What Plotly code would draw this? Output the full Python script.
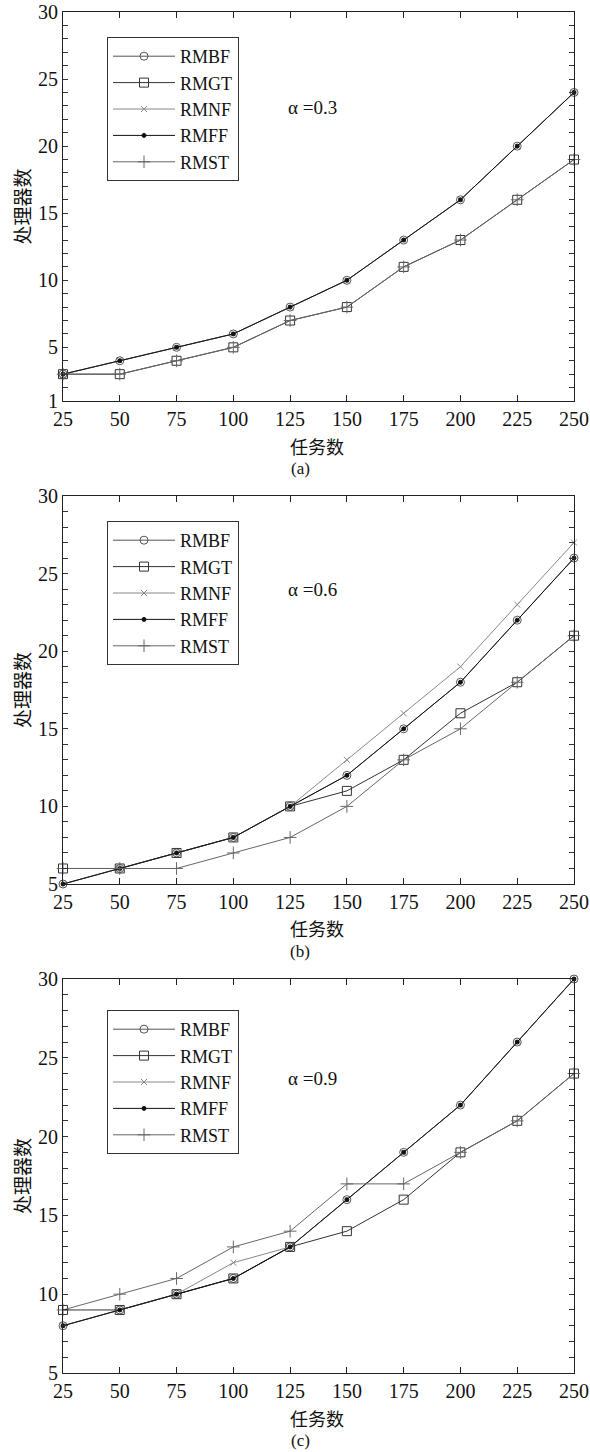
import plotly.graph_objects as go

tasks = [25, 50, 75, 100, 125, 150, 175, 200, 225, 250]
series_names = ["RMBF", "RMGT", "RMNF", "RMFF", "RMST"]

# panel (a) alpha = 0.3
a_RMBF = [3, 4, 5, 6, 8, 10, 13, 16, 20, 24]
a_RMGT = [3, 3, 4, 5, 7, 8, 11, 13, 16, 19]
a_RMNF = [3, 4, 5, 6, 8, 10, 13, 16, 20, 24]
a_RMFF = [3, 4, 5, 6, 8, 10, 13, 16, 20, 24]
a_RMST = [3, 3, 4, 5, 7, 8, 11, 13, 16, 19]

# panel (b) alpha = 0.6
b_RMBF = [5, 6, 7, 8, 10, 12, 15, 18, 22, 26]
b_RMGT = [6, 6, 7, 8, 10, 11, 13, 16, 18, 21]
b_RMNF = [5, 6, 7, 8, 10, 13, 16, 19, 23, 27]
b_RMFF = [5, 6, 7, 8, 10, 12, 15, 18, 22, 26]
b_RMST = [6, 6, 6, 7, 8, 10, 13, 15, 18, 21]

# panel (c) alpha = 0.9
c_RMBF = [8, 9, 10, 11, 13, 16, 19, 22, 26, 30]
c_RMGT = [9, 9, 10, 11, 13, 14, 16, 19, 21, 24]
c_RMNF = [8, 9, 10, 12, 13, 16, 19, 22, 26, 30]
c_RMFF = [8, 9, 10, 11, 13, 16, 19, 22, 26, 30]
c_RMST = [9, 10, 11, 13, 14, 17, 17, 19, 21, 24]

a_yticks = [1, 5, 10, 15, 20, 25, 30]
bc_yticks = [5, 10, 15, 20, 25, 30]

panels = [
    dict(data=[a_RMBF, a_RMGT, a_RMNF, a_RMFF, a_RMST], alpha="α =0.3", cap="(a)",
         yticks=a_yticks, yrange=[1, 30], top=12, bottom=401,
         leg=(107, 37), alpha_y=107, xt_y=446, cap_y=468),
    dict(data=[b_RMBF, b_RMGT, b_RMNF, b_RMFF, b_RMST], alpha="α =0.6", cap="(b)",
         yticks=bc_yticks, yrange=[5, 30], top=496, bottom=884,
         leg=(107, 521), alpha_y=590, xt_y=928, cap_y=951),
    dict(data=[c_RMBF, c_RMGT, c_RMNF, c_RMFF, c_RMST], alpha="α =0.9", cap="(c)",
         yticks=bc_yticks, yrange=[5, 30], top=979, bottom=1373,
         leg=(107, 1010), alpha_y=1078, xt_y=1418, cap_y=1440),
]

W, H = 590, 1452
X0, X1 = 63, 574

styles = {
    "RMBF": dict(symbol="circle-open", size=8, color="#555555", lw=1),
    "RMGT": dict(symbol="square-open", size=9, color="#333333", lw=1),
    "RMNF": dict(symbol="x-thin-open", size=6, color="#888888", lw=1),
    "RMFF": dict(symbol="circle", size=4, color="#111111", lw=1),
    "RMST": dict(symbol="cross-thin-open", size=9, color="#666666", lw=1),
}

SERIF = "Liberation Serif, Times New Roman, serif"
CJK = "Noto Sans CJK SC"

fig = go.Figure()
layout = dict(width=W, height=H, margin=dict(l=0, r=0, t=0, b=0, pad=0),
              paper_bgcolor="white", plot_bgcolor="white", annotations=[])

for i, p in enumerate(panels):
    n = i + 1
    xa = "x" if n == 1 else f"x{n}"
    ya = "y" if n == 1 else f"y{n}"
    legname = "legend" if n == 1 else f"legend{n}"
    for name, vals in zip(series_names, p["data"]):
        s = styles[name]
        fig.add_trace(go.Scatter(
            x=tasks, y=vals, name=name, mode="lines+markers",
            xaxis=xa, yaxis=ya, legend=legname, cliponaxis=False,
            line=dict(color=s["color"], width=s["lw"]),
            marker=dict(symbol=s["symbol"], size=s["size"], color=s["color"],
                        line=dict(color=s["color"], width=1)),
        ))
    xkey = "xaxis" if n == 1 else f"xaxis{n}"
    ykey = "yaxis" if n == 1 else f"yaxis{n}"
    ydom = [1 - p["bottom"] / H, 1 - p["top"] / H]
    lo, hi = p["yrange"]
    all_y = list(range(lo, hi + 1))
    layout[xkey] = dict(
        domain=[X0 / W, X1 / W], range=[25, 250], anchor=ya,
        tickvals=tasks, ticks="inside", ticklen=6, tickcolor="#222",
        showline=True, linecolor="#222", linewidth=1, mirror="ticks",
        showgrid=False, zeroline=False, automargin=False,
        tickfont=dict(family=SERIF, size=20, color="#111"),
    )
    layout[ykey] = dict(
        domain=ydom, range=p["yrange"], anchor=xa,
        tickvals=all_y, ticktext=[str(v) if v in p["yticks"] else "" for v in all_y],
        ticks="inside", ticklen=5, tickcolor="#333",
        showline=True, linecolor="#222", linewidth=1, mirror="ticks",
        showgrid=False, zeroline=False, automargin=False,
        tickfont=dict(family=SERIF, size=20, color="#111"),
    )
    layout[legname] = dict(
        x=p["leg"][0] / W, y=1 - p["leg"][1] / H, xanchor="left", yanchor="top",
        bordercolor="#333", borderwidth=1, bgcolor="white",
        font=dict(family=SERIF, size=18, color="#111"),
        itemwidth=62, tracegroupgap=0,
    )
    layout["annotations"] += [
        dict(text=p["alpha"], xref="paper", yref="paper", x=286 / W, y=1 - p["alpha_y"] / H,
             xanchor="left", yanchor="middle", showarrow=False,
             font=dict(family=SERIF, size=19, color="#111")),
        dict(text="任务数", xref="paper", yref="paper", x=317 / W, y=1 - p["xt_y"] / H,
             xanchor="center", yanchor="middle", showarrow=False,
             font=dict(family=CJK, size=18, color="#111")),
        dict(text=p["cap"], xref="paper", yref="paper", x=300 / W, y=1 - p["cap_y"] / H,
             xanchor="center", yanchor="middle", showarrow=False,
             font=dict(family=SERIF, size=17, color="#111")),
        dict(text="处理器数", xref="paper", yref="paper", x=21 / W,
             y=1 - (p["top"] + p["bottom"]) / 2 / H, textangle=-90,
             xanchor="center", yanchor="middle", showarrow=False,
             font=dict(family=CJK, size=19, color="#111")),
    ]

fig.update_layout(**layout)
fig.write_html("out.html", config={"displayModeBar": False},
               post_script="document.body.style.margin='0';document.body.style.overflow='hidden';")
